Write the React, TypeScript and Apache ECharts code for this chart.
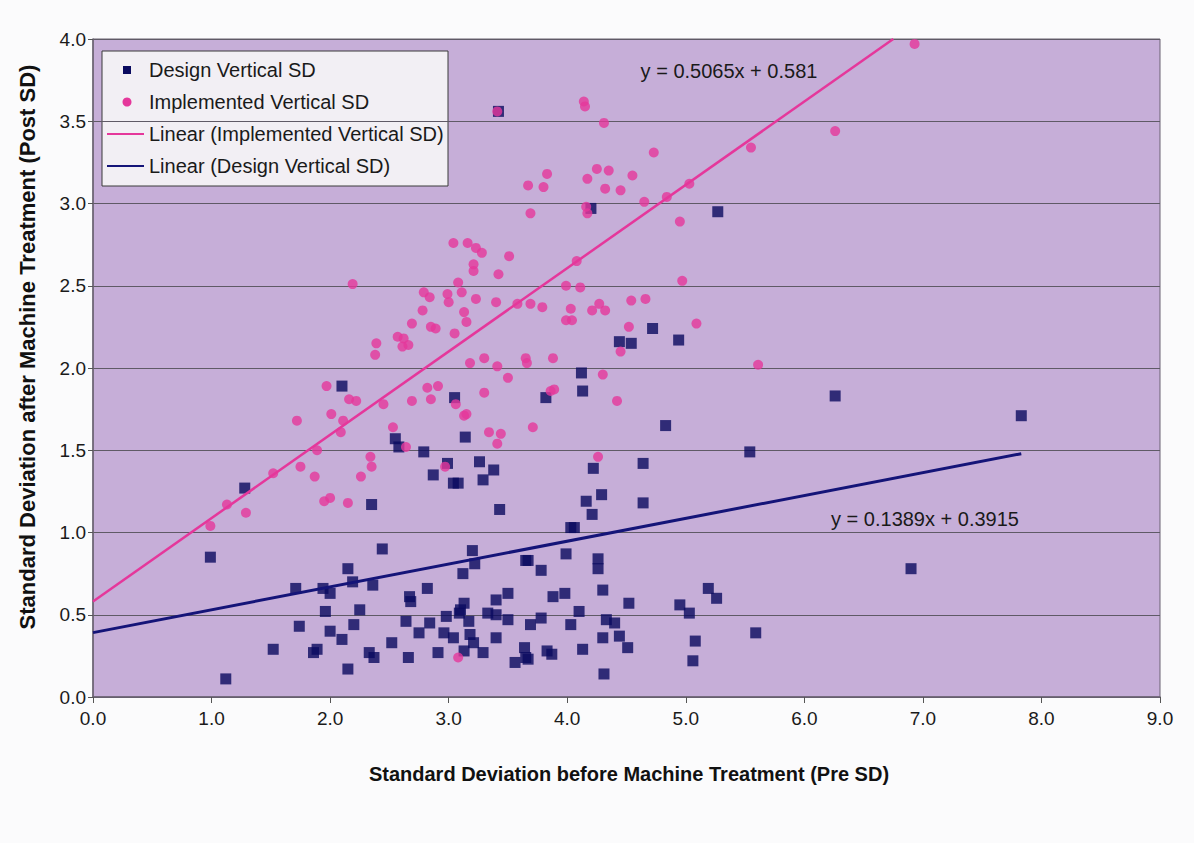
import React, { useEffect, useRef } from "react";
import * as echarts from "echarts";

// Implemented Vertical SD (x = Pre SD, y = Post SD)
const implementedPre: number[] = [
  0.99, 1.13, 1.29, 1.52, 1.72, 1.75, 1.89, 1.87, 1.95, 2.0, 1.97, 2.01, 2.09, 2.11, 2.15, 2.16, 2.22, 2.19,
  2.26, 2.34, 2.35, 2.39, 2.38, 2.45, 2.53, 2.57, 2.62, 2.66, 2.61, 2.64, 2.69, 2.69, 2.78, 2.79, 2.84, 2.82,
  2.91, 2.85, 2.85, 2.89, 2.97, 2.99, 3.0, 3.04, 3.05, 3.06, 3.08, 3.11, 3.13, 3.15, 3.13, 3.15, 3.16, 3.18,
  3.21, 3.21, 3.23, 3.28, 3.23, 3.3, 3.3, 3.34, 3.4, 3.41, 3.41, 3.41, 3.42, 3.44, 3.5, 3.51, 3.58, 3.65,
  3.66, 3.67, 3.69, 3.69, 3.71, 3.79, 3.8, 3.83, 3.86, 3.89, 3.88, 3.99, 3.99, 4.03, 4.04, 4.08, 4.11, 4.14,
  4.15, 4.16, 4.17, 4.17, 4.21, 4.27, 4.32, 4.25, 4.26, 4.3, 4.31, 4.32, 4.35, 4.42, 4.45, 4.45, 4.52, 4.54,
  4.55, 4.65, 4.66, 4.73, 4.84, 4.95, 4.97, 5.03, 5.09, 5.55, 5.61, 6.26, 6.93, 3.08,
];
const implementedPost: number[] = [
  1.04, 1.17, 1.12, 1.36, 1.68, 1.4, 1.5, 1.34, 1.19, 1.21, 1.89, 1.72, 1.61, 1.68, 1.18, 1.81, 1.8, 2.51,
  1.34, 1.46, 1.4, 2.15, 2.08, 1.78, 1.64, 2.19, 2.18, 2.14, 2.13, 1.52, 2.27, 1.8, 2.35, 2.46, 2.43, 1.88,
  1.89, 1.81, 2.25, 2.24, 1.4, 2.45, 2.4, 2.76, 2.21, 1.78, 2.52, 2.46, 2.34, 2.28, 1.71, 1.72, 2.76, 2.03,
  2.63, 2.59, 2.73, 2.7, 2.42, 2.06, 1.85, 1.61, 2.4, 3.56, 2.01, 1.54, 2.57, 1.6, 1.94, 2.68, 2.39, 2.06,
  2.03, 3.11, 2.94, 2.39, 1.64, 2.37, 3.1, 3.18, 1.86, 1.87, 2.06, 2.5, 2.29, 2.36, 2.29, 2.65, 2.49, 3.62,
  3.59, 2.98, 2.94, 3.15, 2.35, 2.39, 2.35, 3.21, 1.46, 1.96, 3.49, 3.09, 3.2, 1.8, 3.08, 2.1, 2.25, 2.41,
  3.17, 3.01, 2.42, 3.31, 3.04, 2.89, 2.53, 3.12, 2.27, 3.34, 2.02, 3.44, 3.97, 0.24,
];

// Design Vertical SD
const designPre: number[] = [
  0.99, 1.12, 1.28, 1.52, 1.71, 1.74, 1.86, 1.89, 1.94, 1.96, 2.0, 2.0, 2.1, 2.1, 2.15, 2.15, 2.19, 2.2, 2.25,
  2.33, 2.35, 2.36, 2.37, 2.44, 2.52, 2.55, 2.58, 2.64, 2.66, 2.67, 2.68, 2.75, 2.79, 2.82, 2.84, 2.87, 2.91,
  2.96, 2.98, 2.99, 3.04, 3.04, 3.05, 3.08, 3.09, 3.1, 3.12, 3.13, 3.13, 3.14, 3.17, 3.18, 3.2, 3.21, 3.22,
  3.26, 3.29, 3.29, 3.33, 3.38, 3.4, 3.4, 3.4, 3.42, 3.43, 3.5, 3.5, 3.56, 3.64, 3.65, 3.65, 3.67, 3.67, 3.69,
  3.78, 3.78, 3.82, 3.83, 3.87, 3.88, 3.98, 3.99, 4.03, 4.03, 4.06, 4.1, 4.12, 4.13, 4.13, 4.16, 4.2, 4.21,
  4.22, 4.26, 4.26, 4.29, 4.3, 4.3, 4.31, 4.33, 4.4, 4.44, 4.44, 4.51, 4.52, 4.54, 4.64, 4.64, 4.72, 4.83,
  4.94, 4.95, 5.03, 5.06, 5.08, 5.19, 5.26, 5.27, 5.54, 5.59, 6.26, 6.9, 7.83,
];
const designPost: number[] = [
  0.85, 0.11, 1.27, 0.29, 0.66, 0.43, 0.27, 0.29, 0.66, 0.52, 0.63, 0.4, 1.89, 0.35, 0.78, 0.17, 0.7, 0.44, 0.53,
  0.27, 1.17, 0.68, 0.24, 0.9, 0.33, 1.57, 1.52, 0.46, 0.24, 0.61, 0.58, 0.39, 1.49, 0.66, 0.45, 1.35, 0.27,
  0.39, 0.49, 1.42, 1.3, 0.36, 1.82, 1.3, 0.51, 0.53, 0.75, 0.57, 0.28, 1.58, 0.46, 0.38, 0.89, 0.33, 0.81,
  1.43, 1.32, 0.27, 0.51, 1.38, 0.59, 0.5, 0.36, 3.56, 1.14, 0.63, 0.47, 0.21, 0.3, 0.83, 0.24, 0.83, 0.23, 0.44,
  0.77, 0.48, 1.82, 0.28, 0.26, 0.61, 0.63, 0.87, 1.03, 0.44, 1.03, 0.52, 1.97, 1.86, 0.29, 1.19, 2.97, 1.11,
  1.39, 0.84, 0.78, 1.23, 0.65, 0.36, 0.14, 0.47, 0.45, 0.37, 2.16, 0.3, 0.57, 2.15, 1.18, 1.42, 2.24, 1.65,
  2.17, 0.56, 0.51, 0.22, 0.34, 0.66, 0.6, 2.95, 1.49, 0.39, 1.83, 0.78, 1.71,
];

// Trendlines as stated on the chart
const implementedSlope = 0.5065;
const implementedIntercept = 0.581;
const designSlope = 0.1389;
const designIntercept = 0.3915;
const implementedLineEnd = 6.75; // x where the line leaves the top of the plot
const designLineEnd = 7.83; // last design point

const xTicks = [0, 1, 2, 3, 4, 5, 6, 7, 8, 9];
const yTicks = [0, 0.5, 1, 1.5, 2, 2.5, 3, 3.5, 4];

const NAVY = "#0a0a5f";
const PINK = "#e5379b";
const FONT = "'Liberation Sans', Arial, sans-serif";

export default function App() {
  const ref = useRef<HTMLDivElement>(null);

  useEffect(() => {
    document.body.style.margin = "0";
    const chart = echarts.init(ref.current!, undefined, { renderer: "svg" });
    const implData = implementedPre.map((x, i) => [x, implementedPost[i]]);
    const designData = designPre.map((x, i) => [x, designPost[i]]);
    const implLine = [
      [0, implementedIntercept],
      [implementedLineEnd, implementedSlope * implementedLineEnd + implementedIntercept],
    ];
    const designLine = [
      [0, designIntercept],
      [designLineEnd, designSlope * designLineEnd + designIntercept],
    ];

    const legendItems = [
      { label: "Design Vertical SD", kind: "square", color: NAVY },
      { label: "Implemented Vertical SD", kind: "circle", color: PINK },
      { label: "Linear (Implemented Vertical SD)", kind: "line", color: PINK },
      { label: "Linear (Design Vertical SD)", kind: "line", color: "#141478" },
    ];
    const legendChildren: any[] = [
      {
        type: "rect",
        shape: { x: 102, y: 51, width: 346, height: 135 },
        style: { fill: "#f2eff4", stroke: "#3a3a3a", lineWidth: 1 },
      },
    ];
    legendItems.forEach((it, i) => {
      const cy = 70 + i * 32;
      if (it.kind === "square") {
        legendChildren.push({ type: "rect", shape: { x: 123, y: cy - 4, width: 8, height: 8 }, style: { fill: it.color } });
      } else if (it.kind === "circle") {
        legendChildren.push({ type: "circle", shape: { cx: 127, cy, r: 4.5 }, style: { fill: it.color } });
      } else {
        legendChildren.push({
          type: "line",
          shape: { x1: 107, y1: cy, x2: 144, y2: cy },
          style: { stroke: it.color, lineWidth: 2 },
        });
      }
      legendChildren.push({
        type: "text",
        x: 149,
        y: cy,
        style: { text: it.label, font: `20px ${FONT}`, fill: "#1a1a1a", textVerticalAlign: "middle" },
      });
    });

    chart.setOption({
      animation: false,
      backgroundColor: "#fbfbfc",
      grid: {
        left: 93,
        right: 34,
        top: 39,
        bottom: 146,
        show: true,
        backgroundColor: "#c6aed8",
        borderColor: "#6a6272",
        borderWidth: 1,
      },
      xAxis: {
        type: "value",
        min: xTicks[0],
        max: xTicks[xTicks.length - 1],
        interval: 1,
        axisLine: { show: true, lineStyle: { color: "#6a6272", width: 1.5 } },
        axisTick: { show: true, length: 6, lineStyle: { color: "#555" } },
        splitLine: { show: false },
        axisLabel: {
          formatter: (v: number) => v.toFixed(1),
          fontSize: 19,
          fontFamily: FONT,
          color: "#1a1a1a",
          margin: 12,
        },
      },
      yAxis: {
        type: "value",
        min: yTicks[0],
        max: yTicks[yTicks.length - 1],
        interval: 0.5,
        axisLine: { show: true, lineStyle: { color: "#6a6272", width: 1.5 } },
        axisTick: { show: true, length: 5, lineStyle: { color: "#555" } },
        splitLine: { show: true, lineStyle: { color: "#5f5a66", width: 1 } },
        axisLabel: {
          formatter: (v: number) => v.toFixed(1),
          fontSize: 19,
          fontFamily: FONT,
          color: "#1a1a1a",
          margin: 7,
        },
      },
      series: [
        {
          name: "Design Vertical SD",
          type: "scatter",
          data: designData,
          symbol: "rect",
          symbolSize: 11,
          itemStyle: { color: NAVY },
          emphasis: { disabled: true },
          z: 3,
        },
        {
          name: "Implemented Vertical SD",
          type: "scatter",
          data: implData,
          symbol: "circle",
          symbolSize: 10,
          itemStyle: { color: PINK },
          emphasis: { disabled: true },
          z: 4,
        },
        {
          name: "Linear (Implemented Vertical SD)",
          type: "line",
          data: implLine,
          showSymbol: false,
          symbol: "none",
          lineStyle: { color: PINK, width: 2.5 },
          emphasis: { disabled: true },
          z: 5,
        },
        {
          name: "Linear (Design Vertical SD)",
          type: "line",
          data: designLine,
          showSymbol: false,
          symbol: "none",
          lineStyle: { color: "#141478", width: 3 },
          emphasis: { disabled: true },
          z: 5,
        },
      ],
      graphic: [
        ...legendChildren,
        {
          type: "text",
          x: 729,
          y: 71,
          style: {
            text: `y = ${implementedSlope}x + ${implementedIntercept}`,
            font: `20px ${FONT}`,
            fill: "#1a1a1a",
            textAlign: "center",
            textVerticalAlign: "middle",
          },
          z: 10,
        },
        {
          type: "text",
          x: 925,
          y: 519,
          style: {
            text: `y = ${designSlope}x + ${designIntercept}`,
            font: `20px ${FONT}`,
            fill: "#1a1a1a",
            textAlign: "center",
            textVerticalAlign: "middle",
          },
          z: 10,
        },
        {
          type: "text",
          x: 629,
          y: 774,
          style: {
            text: "Standard Deviation before Machine Treatment (Pre SD)",
            font: `bold 20px ${FONT}`,
            fill: "#111",
            textAlign: "center",
            textVerticalAlign: "middle",
          },
        },
        {
          type: "text",
          x: 27,
          y: 347,
          rotation: Math.PI / 2,
          style: {
            text: "Standard Deviation after Machine Treatment (Post SD)",
            font: `bold 22px ${FONT}`,
            fill: "#111",
            textAlign: "center",
            textVerticalAlign: "middle",
          },
        },
      ],
    });
    return () => chart.dispose();
  }, []);

  return <div ref={ref} style={{ width: 1194, height: 843 }} />;
}
